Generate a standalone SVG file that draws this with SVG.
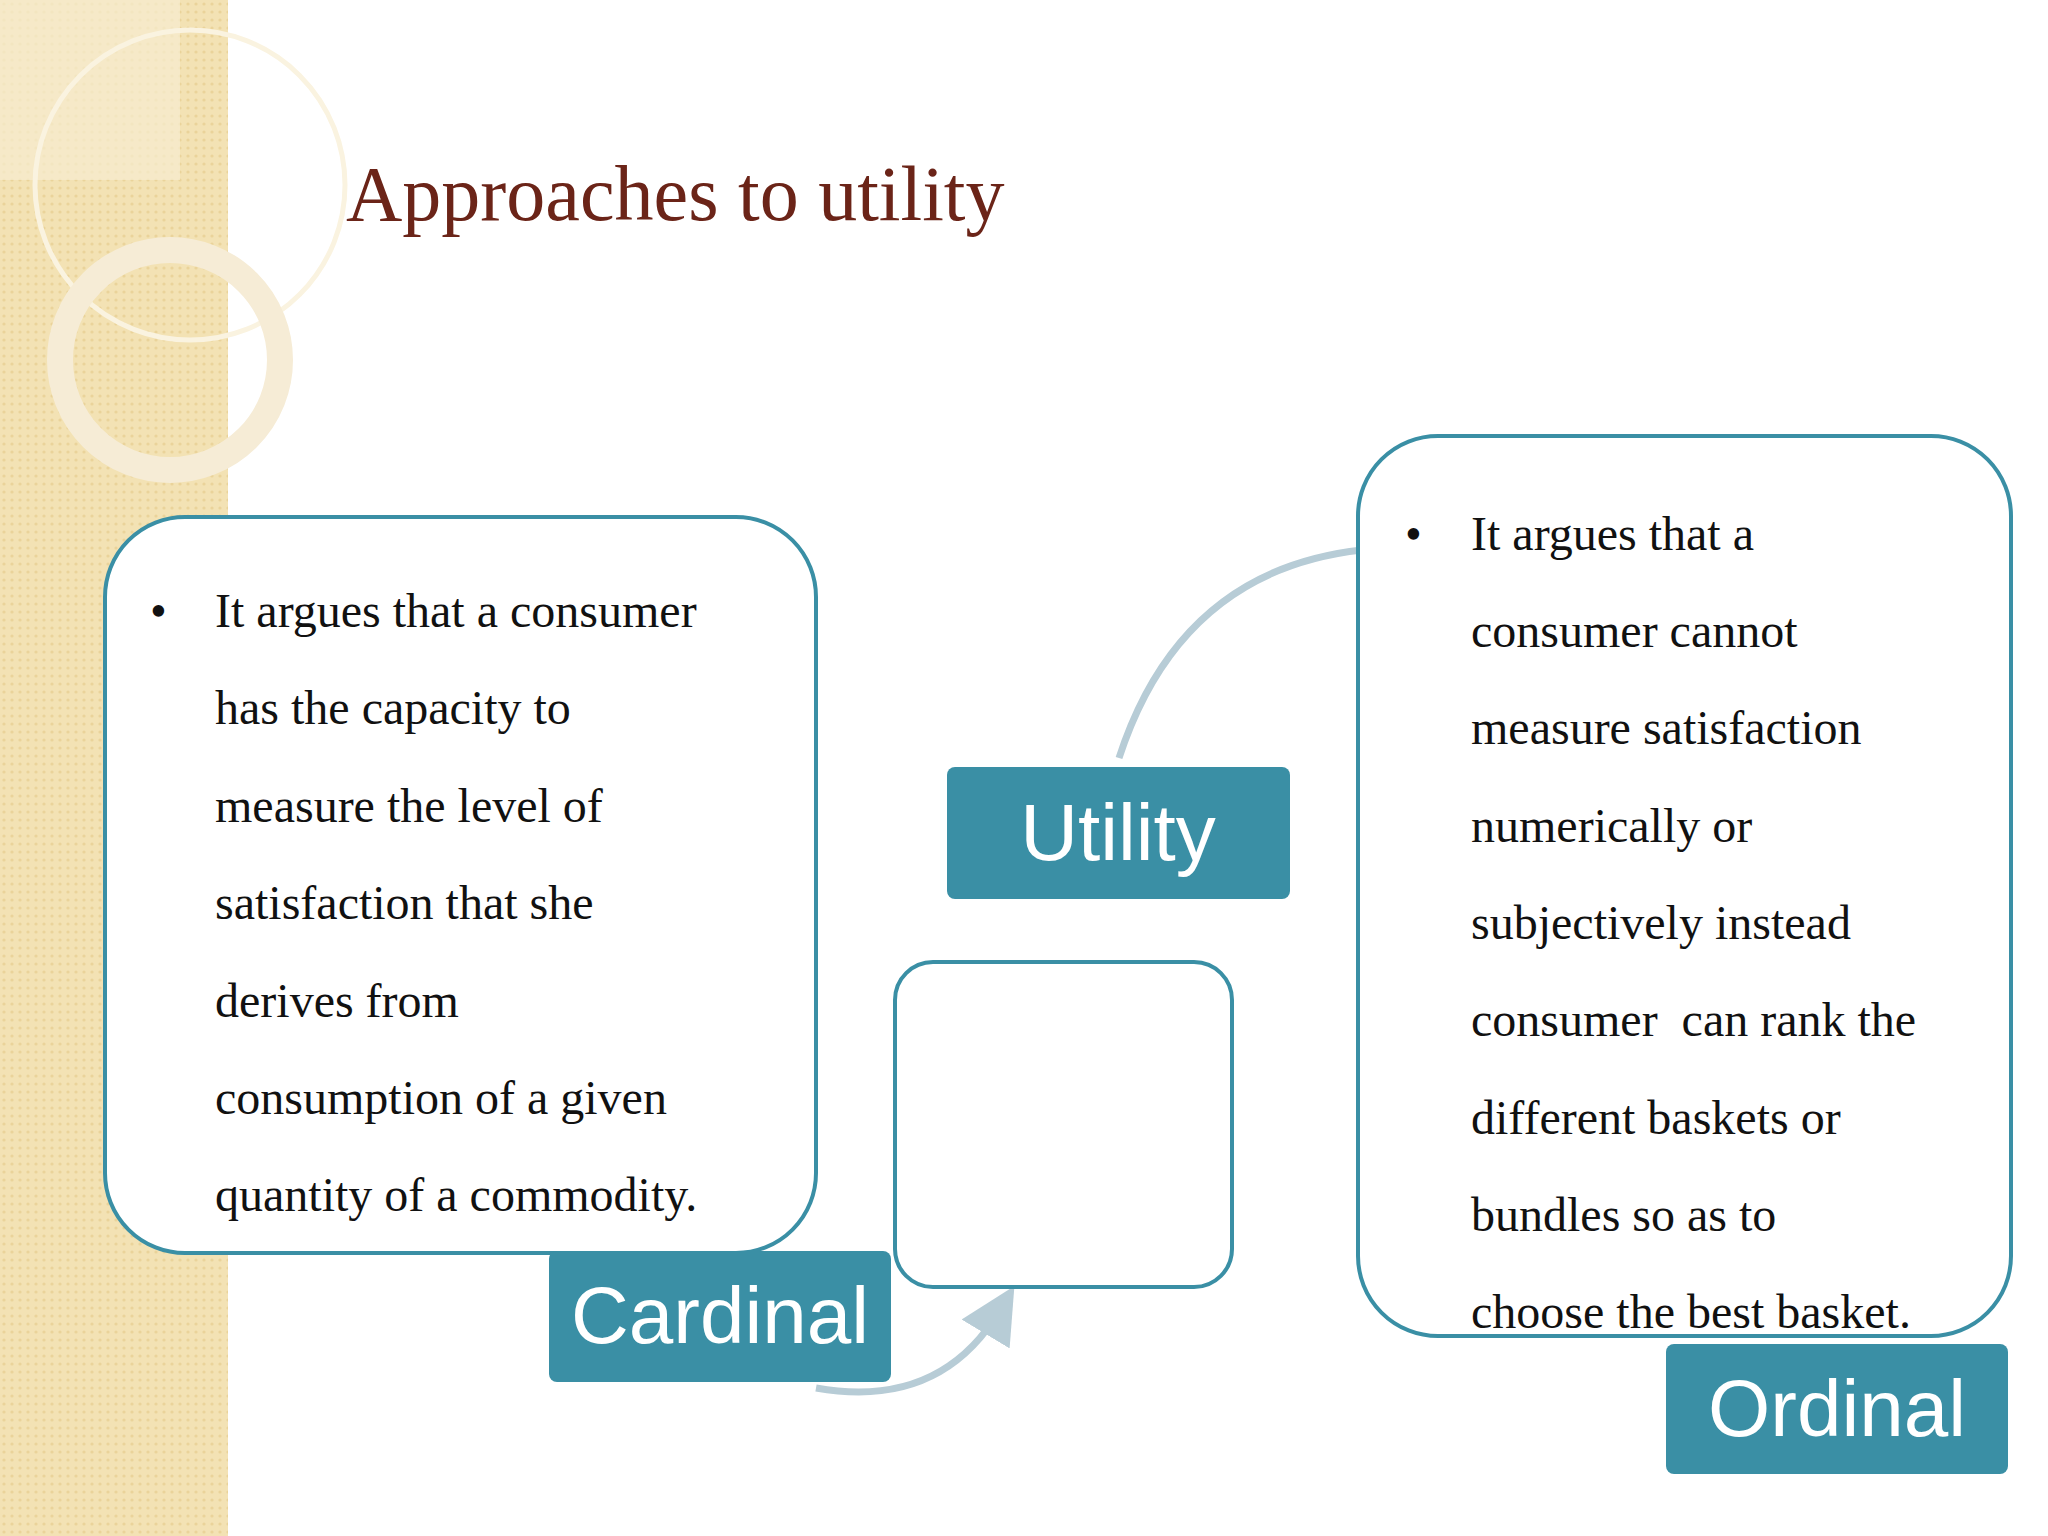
<svg xmlns="http://www.w3.org/2000/svg" width="2048" height="1536" viewBox="0 0 2048 1536">
<defs>
<pattern id="pt" width="8" height="8" patternUnits="userSpaceOnUse"><rect width="8" height="8" fill="#f3e2b4"/><circle cx="4" cy="4" r="1.6" fill="#ead39a"/></pattern>
<marker id="ah" markerWidth="8" markerHeight="8" refX="4" refY="4" orient="auto" markerUnits="strokeWidth"><path d="M0,0 L8,4 L0,8 z" fill="#b7ccd6"/></marker>
</defs>
<style>
.box{fill:#fff;stroke:#3a8fa5;stroke-width:4}
.lbl{fill:#3a8fa5}
.lt{font-family:"Liberation Sans",Arial,sans-serif;fill:#fff;text-anchor:middle}
.bt{font-family:"Liberation Serif","Times New Roman",serif;font-size:48px;fill:#111}
.arc{fill:none;stroke:#b7ccd6;stroke-width:7}
</style>
<rect width="2048" height="1536" fill="#fff"/>
<rect x="0" y="0" width="228" height="1536" fill="url(#pt)"/>
<rect x="0" y="0" width="180" height="180" fill="#f7ecd0" opacity="0.7"/>
<circle cx="190" cy="185" r="155" fill="none" stroke="#faf3e0" stroke-width="5"/>
<circle cx="170" cy="360" r="110" fill="none" stroke="#f6ecd6" stroke-width="26"/>
<text x="346" y="220" font-family="'Liberation Serif','Times New Roman',serif" font-size="78" fill="#6b2418">Approaches to utility</text>
<g id="connectors">
<path class="arc" d="M1119,758 Q1180,570 1362,550"/>
<path class="arc" d="M816,1388 Q940,1410 1000,1310" marker-end="url(#ah)"/>
</g>
<g id="cardinal-desc"><rect class="box" x="105" y="517" width="711" height="736" rx="80"/>
<text class="bt"><tspan x="150" y="627">•</tspan><tspan x="215" y="627">It argues that a consumer</tspan><tspan x="215" y="724">has the capacity to</tspan><tspan x="215" y="822">measure the level of</tspan><tspan x="215" y="919">satisfaction that she</tspan><tspan x="215" y="1017">derives from</tspan><tspan x="215" y="1114">consumption of a given</tspan><tspan x="215" y="1211">quantity of a commodity.</tspan></text></g>
<g id="middle"><rect class="box" x="895" y="962" width="337" height="325" rx="38"/></g>
<g id="ordinal-desc"><rect class="box" x="1358" y="436" width="653" height="900" rx="80"/>
<text class="bt"><tspan x="1405" y="550">•</tspan><tspan x="1471" y="550">It argues that a</tspan><tspan x="1471" y="647">consumer cannot</tspan><tspan x="1471" y="744">measure satisfaction</tspan><tspan x="1471" y="842">numerically or</tspan><tspan x="1471" y="939">subjectively instead</tspan><tspan x="1471" y="1036" xml:space="preserve">consumer  can rank the</tspan><tspan x="1471" y="1134">different baskets or</tspan><tspan x="1471" y="1231">bundles so as to</tspan><tspan x="1471" y="1328">choose the best basket.</tspan></text></g>
<g id="utility"><rect class="lbl" x="947" y="767" width="343" height="132" rx="8"/><text class="lt" x="1118" y="860" font-size="80">Utility</text></g>
<g id="cardinal"><rect class="lbl" x="549" y="1251" width="342" height="131" rx="8"/><text class="lt" x="720" y="1343" font-size="80">Cardinal</text></g>
<g id="ordinal"><rect class="lbl" x="1666" y="1344" width="342" height="130" rx="8"/><text class="lt" x="1837" y="1436" font-size="80">Ordinal</text></g>
</svg>
